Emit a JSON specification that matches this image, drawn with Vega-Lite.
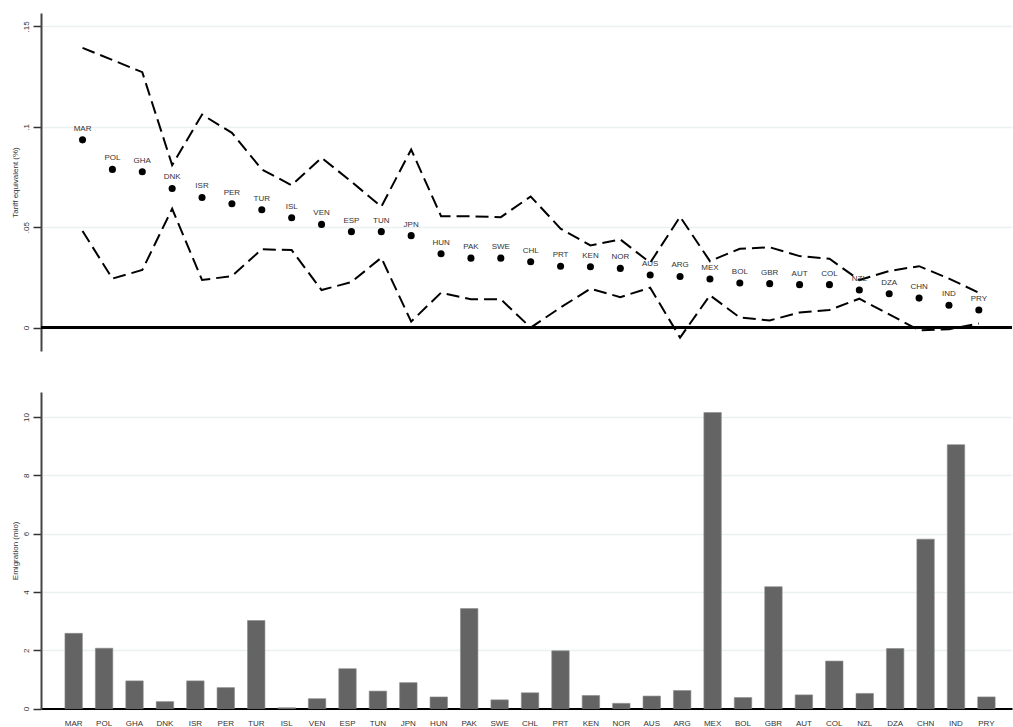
{
  "$schema": "https://vega.github.io/schema/vega-lite/v6.json",
  "padding": {"left": 10, "top": 13, "right": 0, "bottom": 0},
  "background": "white",
  "spacing": 41,
  "config": {
    "view": {"stroke": null},
    "font": "Liberation Sans",
    "axis": {
      "domainColor": "#444",
      "domainWidth": 2,
      "tickColor": "#333",
      "tickWidth": 1.5,
      "tickSize": 8,
      "labelColor": "#333",
      "labelFontSize": 8,
      "labelFont": "Liberation Sans",
      "titleFont": "Liberation Sans",
      "titleFontSize": 8,
      "titleFontWeight": "normal",
      "titleColor": "#333",
      "gridColor": "#e9f1f3",
      "gridWidth": 1.5
    }
  },
  "datasets": {
    "d": [
      {"c": "MAR", "t": 0.0935, "hi": 0.1393, "lo": 0.0481, "e": 2.58},
      {"c": "POL", "t": 0.0788, "hi": 0.1333, "lo": 0.0244, "e": 2.07},
      {"c": "GHA", "t": 0.0776, "hi": 0.1272, "lo": 0.0287, "e": 0.95},
      {"c": "DNK", "t": 0.0693, "hi": 0.0809, "lo": 0.0592, "e": 0.24},
      {"c": "ISR", "t": 0.0648, "hi": 0.1061, "lo": 0.0237, "e": 0.95},
      {"c": "PER", "t": 0.0617, "hi": 0.0970, "lo": 0.0257, "e": 0.72},
      {"c": "TUR", "t": 0.0587, "hi": 0.0788, "lo": 0.0390, "e": 3.02},
      {"c": "ISL", "t": 0.0547, "hi": 0.0709, "lo": 0.0386, "e": 0.03},
      {"c": "VEN", "t": 0.0514, "hi": 0.0846, "lo": 0.0187, "e": 0.34},
      {"c": "ESP", "t": 0.0478, "hi": 0.0727, "lo": 0.0227, "e": 1.37},
      {"c": "TUN", "t": 0.0478, "hi": 0.0602, "lo": 0.0348, "e": 0.60},
      {"c": "JPN", "t": 0.0458, "hi": 0.0887, "lo": 0.0030, "e": 0.89},
      {"c": "HUN", "t": 0.0368, "hi": 0.0555, "lo": 0.0174, "e": 0.40},
      {"c": "PAK", "t": 0.0346, "hi": 0.0554, "lo": 0.0141, "e": 3.43},
      {"c": "SWE", "t": 0.0346, "hi": 0.0550, "lo": 0.0141, "e": 0.30},
      {"c": "CHL", "t": 0.0328, "hi": 0.0653, "lo": 0.0000, "e": 0.54},
      {"c": "PRT", "t": 0.0306, "hi": 0.0493, "lo": 0.0100, "e": 1.98},
      {"c": "KEN", "t": 0.0303, "hi": 0.0409, "lo": 0.0194, "e": 0.45},
      {"c": "NOR", "t": 0.0295, "hi": 0.0439, "lo": 0.0152, "e": 0.18},
      {"c": "AUS", "t": 0.0262, "hi": 0.0323, "lo": 0.0199, "e": 0.43},
      {"c": "ARG", "t": 0.0255, "hi": 0.0552, "lo": -0.0050, "e": 0.62},
      {"c": "MEX", "t": 0.0242, "hi": 0.0331, "lo": 0.0161, "e": 10.15},
      {"c": "BOL", "t": 0.0222, "hi": 0.0393, "lo": 0.0050, "e": 0.38},
      {"c": "GBR", "t": 0.0219, "hi": 0.0400, "lo": 0.0036, "e": 4.18},
      {"c": "AUT", "t": 0.0214, "hi": 0.0356, "lo": 0.0075, "e": 0.47},
      {"c": "COL", "t": 0.0214, "hi": 0.0343, "lo": 0.0088, "e": 1.63},
      {"c": "NZL", "t": 0.0187, "hi": 0.0237, "lo": 0.0144, "e": 0.52},
      {"c": "DZA", "t": 0.0169, "hi": 0.0282, "lo": 0.0066, "e": 2.06},
      {"c": "CHN", "t": 0.0147, "hi": 0.0306, "lo": -0.0013, "e": 5.81},
      {"c": "IND", "t": 0.0111, "hi": 0.0244, "lo": -0.0008, "e": 9.05},
      {"c": "PRY", "t": 0.0088, "hi": 0.0174, "lo": 0.0021, "e": 0.40}
    ]
  },
  "resolve": {"scale": {"x": "independent", "y": "independent"}},
  "vconcat": [
    {
      "width": 971,
      "height": 338,
      "data": {"name": "d"},
      "encoding": {
        "x": {
          "field": "c", "type": "nominal", "sort": null,
          "scale": {"type": "band", "paddingInner": 0.5, "paddingOuter": 1.0335, "align": 0.57, "round": false},
          "axis": null
        }
      },
      "layer": [
        {
          "mark": {"type": "rule", "color": "black", "strokeWidth": 2},
          "encoding": {"y": {"datum": 0, "type": "quantitative"}, "x": null}
        },
        {
          "mark": {"type": "line", "color": "black", "strokeWidth": 2, "strokeDash": [13, 6]},
          "encoding": {
            "y": {
              "field": "hi", "type": "quantitative",
              "scale": {"domain": [-0.01164, 0.15667], "nice": false, "zero": false},
              "axis": {
                "title": "Tariff equivalent (%)",
                "values": [0, 0.05, 0.1, 0.15],
                "labelExpr": "datum.value == 0 ? '0' : replace(format(datum.value, '~g'), '0.', '.')",
                "labelAngle": 270,
                "labelAlign": "center",
                "labelBaseline": "bottom",
                "labelPadding": 3,
                "titlePadding": 3,
                "grid": true
              }
            }
          }
        },
        {
          "mark": {"type": "line", "color": "black", "strokeWidth": 2, "strokeDash": [13, 6]},
          "encoding": {"y": {"field": "lo", "type": "quantitative"}}
        },
        {
          "mark": {"type": "circle", "color": "black", "opacity": 1, "size": 50},
          "encoding": {"y": {"field": "t", "type": "quantitative"}}
        },
        {
          "mark": {"type": "text", "dy": -11, "fontSize": 8, "color": "#333", "font": "Liberation Sans"},
          "encoding": {"y": {"field": "t", "type": "quantitative"}, "text": {"field": "c"}}
        }
      ]
    },
    {
      "width": 971,
      "height": 316.6,
      "data": {"name": "d"},
      "mark": {"type": "bar", "color": "#646464", "stroke": "#8a8a8a", "strokeWidth": 0.6},
      "encoding": {
        "x": {
          "field": "c", "type": "nominal", "sort": null,
          "scale": {"type": "band", "paddingInner": 0.427, "paddingOuter": 0.6705, "align": 0.587, "round": false},
          "axis": {
            "title": null,
            "labelAngle": 0,
            "ticks": false,
            "labelPadding": 11,
            "domainColor": "black",
            "domainWidth": 2,
            "labelFontSize": 8
          }
        },
        "y": {
          "field": "e", "type": "quantitative",
          "scale": {"domain": [0, 10.855], "nice": false},
          "axis": {
            "title": "Emigration (mio)",
            "values": [0, 2, 4, 6, 8, 10],
            "labelAngle": 270,
            "labelAlign": "center",
            "labelBaseline": "bottom",
            "labelPadding": 3,
            "titlePadding": 3,
            "grid": true
          }
        }
      }
    }
  ]
}
